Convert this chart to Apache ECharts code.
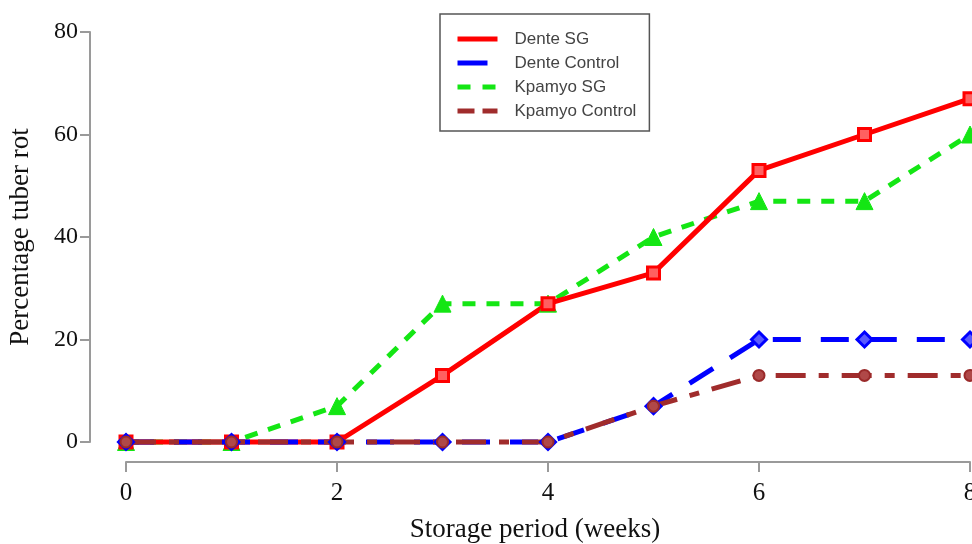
<!DOCTYPE html>
<html>
<head>
<meta charset="utf-8">
<script src="https://cdn.jsdelivr.net/npm/echarts@6/dist/echarts.min.js"></script>
<style>
html,body{margin:0;padding:0;background:#fff;}
#c{width:972px;height:544px;}
</style>
</head>
<body>
<div id="c"></div>
<script>
var weeks = [0, 1, 2, 3, 4, 5, 6, 7, 8];
var denteSG = [0, 0, 0, 13, 27, 33, 53, 60, 67];
var denteControl = [0, 0, 0, 0, 0, 7, 20, 20, 20];
var kpamyoSG = [0, 0, 7, 27, 27, 40, 47, 47, 60];
var kpamyoControl = [0, 0, 0, 0, 0, 7, 13, 13, 13];
var xTicks = [0, 2, 4, 6, 8];
var yTicks = [0, 20, 40, 60, 80];

function pairs(vals) { return weeks.map(function (w, i) { return [w, vals[i]]; }); }

var chart = echarts.init(document.getElementById('c'));
var axisGray = '#9a9a9a';
var serif = '"Liberation Serif", "Times New Roman", serif';

chart.setOption({
  animation: false,
  backgroundColor: '#fff',
  grid: { left: 126, right: 2, top: 32, bottom: 102, containLabel: false, outerBoundsMode: 'none' },
  xAxis: {
    type: 'value', min: xTicks[0], max: xTicks[xTicks.length - 1], interval: 2,
    offset: 20,
    name: 'Storage period (weeks)', nameLocation: 'middle', nameGap: 54,
    nameTextStyle: { fontFamily: serif, fontSize: 27, color: '#111', padding: [0, 26, 0, 0] },
    axisLine: { show: true, onZero: false, lineStyle: { color: axisGray, width: 2 } },
    axisTick: { show: true, length: 10, lineStyle: { color: axisGray, width: 2 } },
    axisLabel: { fontFamily: serif, fontSize: 25, color: '#111', margin: 19 },
    splitLine: { show: false }
  },
  yAxis: {
    type: 'value', min: yTicks[0], max: yTicks[yTicks.length - 1], interval: 20,
    offset: 36,
    name: 'Percentage tuber rot', nameLocation: 'middle', nameGap: 56,
    nameTextStyle: { fontFamily: serif, fontSize: 27, color: '#111' },
    axisLine: { show: true, onZero: false, lineStyle: { color: axisGray, width: 2 } },
    axisTick: { show: true, length: 10, lineStyle: { color: axisGray, width: 2 } },
    axisLabel: { fontFamily: serif, fontSize: 24, color: '#111', margin: 12 },
    splitLine: { show: false }
  },
  legend: {
    orient: 'vertical', left: 440, top: 14,
    padding: [15, 13, 10, 15],
    borderColor: '#555', borderWidth: 1.5, backgroundColor: '#fff',
    itemWidth: 40, itemHeight: 14, itemGap: 4,
    itemStyle: { opacity: 0 },
    lineStyle: { width: 5 },
    textStyle: { fontFamily: '"Liberation Sans", Arial, sans-serif', fontSize: 17, color: '#444', lineHeight: 20, padding: [0, 0, 0, 12] },
    data: [
      { name: 'Dente SG', lineStyle: { width: 5, type: 'solid' } },
      { name: 'Dente Control', lineStyle: { width: 5, type: [30, 12] } },
      { name: 'Kpamyo SG', lineStyle: { width: 5, type: [13, 12] } },
      { name: 'Kpamyo Control', lineStyle: { width: 5, type: [17, 8] } }
    ]
  },
  series: [
    {
      name: 'Kpamyo SG', type: 'line', data: pairs(kpamyoSG), clip: false,
      symbol: 'triangle', symbolSize: 17,
      lineStyle: { color: '#14e614', width: 5, type: [13, 11] },
      itemStyle: { color: '#14e614', borderColor: '#14e614', borderWidth: 1 }
    },
    {
      name: 'Dente SG', type: 'line', data: pairs(denteSG), clip: false,
      symbol: 'rect', symbolSize: 12,
      lineStyle: { color: '#ff0000', width: 5, type: 'solid' },
      itemStyle: { color: '#ff6060', borderColor: '#ff0000', borderWidth: 3 }
    },
    {
      name: 'Dente Control', type: 'line', data: pairs(denteControl), clip: false,
      symbol: 'diamond', symbolSize: 15,
      lineStyle: { color: '#0000ff', width: 5, type: [28, 20] },
      itemStyle: { color: '#5a5aff', borderColor: '#0000ff', borderWidth: 3 }
    },
    {
      name: 'Kpamyo Control', type: 'line', data: pairs(kpamyoControl), clip: false,
      symbol: 'circle', symbolSize: 11,
      lineStyle: { color: '#a02c2c', width: 5, type: [30, 13, 10, 13] },
      itemStyle: { color: '#b04848', borderColor: '#9a2a2a', borderWidth: 2 }
    }
  ]
});
</script>
</body>
</html>
